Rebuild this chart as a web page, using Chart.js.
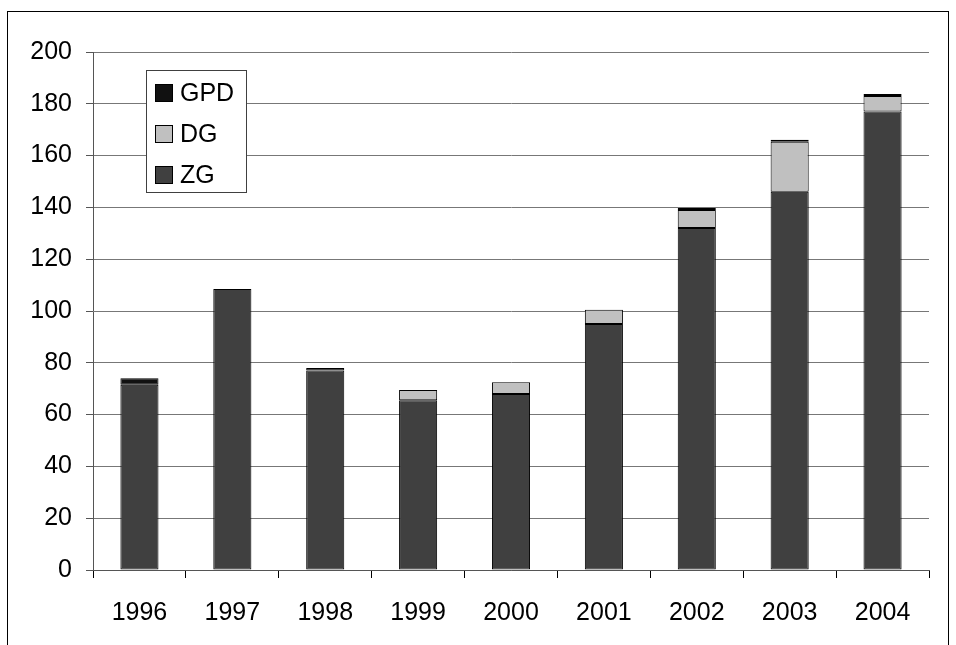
<!DOCTYPE html>
<html>
<head>
<meta charset="utf-8">
<script src="https://cdn.jsdelivr.net/npm/chart.js@4/dist/chart.umd.min.js"></script>
<style>
  html, body { margin: 0; padding: 0; background: #fff; overflow: hidden; }
  #wrap { position: relative; width: 956px; height: 645px; }
  #frame { position: absolute; left: 7px; top: 11px; width: 942px; height: 700px; border: 1px solid #000; box-sizing: border-box; pointer-events: none; }
  canvas { position: absolute; left: 0; top: 0; }
</style>
</head>
<body>
<div id="wrap">
  <canvas id="myChart" width="956" height="645"></canvas>
  <div id="frame"></div>
</div>
<script>
// years on the x axis
const years = ['1996', '1997', '1998', '1999', '2000', '2001', '2002', '2003', '2004'];
// stacked series, bottom to top (null = no segment)
const zg  = [71.5, 108.5, 77, 65.5, 68, 95, 132, 146, 177];
const dg  = [null, null, null, 4, 4.5, 5.5, 7, 19.3, 6];
const gpd = [2.5, null, 1, null, null, null, 0.8, 0.8, 0.8];
// y axis ticks
const yTicks = [0, 20, 40, 60, 80, 100, 120, 140, 160, 180, 200];

const FONT = { family: 'Liberation Sans, Arial, sans-serif', size: 25 };

// draws the boxed legend inside the plot, like the original
const boxLegend = {
  id: 'boxLegend',
  afterDraw(chart) {
    const ctx = chart.ctx;
    const area = chart.chartArea;
    const x = area.left + 53, y = area.top + 18, w = 100, h = 122;
    ctx.save();
    ctx.fillStyle = '#fff';
    ctx.fillRect(x, y, w, h);
    ctx.strokeStyle = '#404040';
    ctx.lineWidth = 1;
    ctx.strokeRect(x + 0.5, y + 0.5, w, h);
    ctx.font = FONT.size + 'px ' + FONT.family;
    ctx.textBaseline = 'middle';
    const sets = chart.data.datasets.slice().reverse();
    sets.forEach((ds, i) => {
      const cy = y + 23 + i * 41;
      ctx.fillStyle = ds.backgroundColor;
      ctx.fillRect(x + 9, cy - 9, 18, 18);
      ctx.strokeStyle = '#000';
      ctx.strokeRect(x + 9.5, cy - 8.5, 17, 17);
      ctx.fillStyle = '#000';
      ctx.fillText(ds.label, x + 34, cy + 1);
    });
    ctx.restore();
  }
};

const ctx = document.getElementById('myChart').getContext('2d');
const myChart = new Chart(ctx, {
  type: 'bar',
  data: {
    labels: years,
    datasets: [
      { label: 'ZG', data: zg, backgroundColor: '#404040' },
      { label: 'DG', data: dg, backgroundColor: '#c0c0c0' },
      { label: 'GPD', data: gpd, backgroundColor: '#111111' }
    ].map(ds => Object.assign(ds, {
      borderColor: '#000',
      borderWidth: 1,
      borderSkipped: false,
      barPercentage: 0.41,
      categoryPercentage: 1
    }))
  },
  options: {
    responsive: false,
    animation: false,
    layout: { padding: { top: 52, right: 27, left: 0, bottom: 0 } },
    scales: {
      x: {
        stacked: true,
        offset: true,
        grid: {
          offset: true,
          drawOnChartArea: true,
          color: c => (c.index === years.length ? '#777' : 'rgba(0,0,0,0)'),
          tickColor: '#000',
          tickLength: 8
        },
        border: { color: '#555' },
        ticks: { color: '#000', font: FONT, padding: 20, maxRotation: 0 },
        afterFit: s => { s.height = 75; }
      },
      y: {
        stacked: true,
        min: 0,
        max: 200,
        afterBuildTicks: s => { s.ticks = yTicks.map(v => ({ value: v })); },
        grid: { color: '#777', tickColor: '#555', tickLength: 7 },
        border: { color: '#555' },
        ticks: { color: '#000', font: FONT, padding: 14 },
        afterFit: s => { s.width = 93; }
      }
    },
    plugins: {
      legend: { display: false },
      tooltip: { enabled: false }
    }
  },
  plugins: [boxLegend]
});
</script>
</body>
</html>
